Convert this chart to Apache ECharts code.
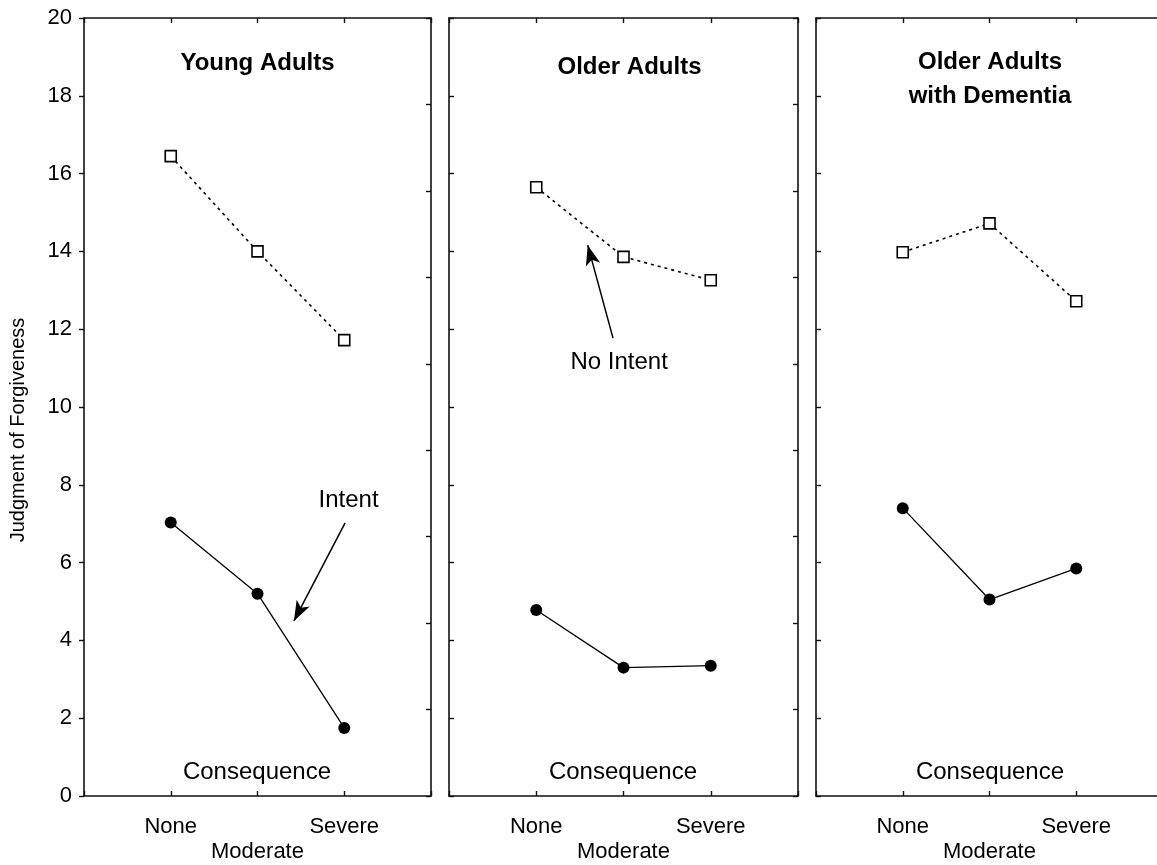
<!DOCTYPE html>
<html>
<head>
<meta charset="utf-8">
<script src="https://cdn.jsdelivr.net/npm/echarts@6/dist/echarts.min.js"></script>
<style>html,body{margin:0;padding:0;background:#fff;}#c{width:1157px;height:865px;}</style>
</head>
<body>
<div id="c"></div>
<script>
// ---- data ----
var consequences = ['None', 'Moderate', 'Severe'];
var xPositions = [1, 2, 3];
var panelTitles = [['Young Adults'], ['Older Adults'], ['Older Adults', 'with Dementia']];
var noIntentYoung = [16.45, 14.0, 11.72];
var intentYoung = [7.03, 5.2, 1.75];
var noIntentOlder = [15.65, 13.86, 13.26];
var intentOlder = [4.78, 3.3, 3.35];
var noIntentDementia = [13.98, 14.72, 12.72];
var intentDementia = [7.4, 5.05, 5.85];
var yTicks = [0, 2, 4, 6, 8, 10, 12, 14, 16, 18, 20];

var noIntent = [noIntentYoung, noIntentOlder, noIntentDementia];
var intent = [intentYoung, intentOlder, intentDementia];

// annotation arrows in data space
var arrows = [
  {panel: 0, from: [3.01, 7.02], to: [2.42, 4.5], text: 'Intent', textAt: [3.05, 7.6]},
  {panel: 1, from: [1.88, 11.77], to: [1.59, 14.16], text: 'No Intent', textAt: [1.95, 11.15]}
];

var FONT = '"Liberation Sans", Arial, Helvetica, sans-serif';
var grids = [
  {left: 84, top: 18, width: 347, height: 778, outerBoundsMode: 'none', containLabel: false},
  {left: 449, top: 18, width: 349, height: 778, outerBoundsMode: 'none', containLabel: false},
  {left: 816, top: 18, width: 347, height: 778, outerBoundsMode: 'none', containLabel: false}
];

var xAxes = [], yAxes = [], series = [];
grids.forEach(function (g, i) {
  xAxes.push({
    gridIndex: i, type: 'value', min: 0, max: 4, interval: 1, position: 'bottom',
    axisLine: {show: true, onZero: false, lineStyle: {color: '#111', width: 1.6}},
    axisTick: {show: true, inside: true, length: 5, lineStyle: {color: '#111', width: 1.4}},
    splitLine: {show: false},
    axisLabel: {
      show: true, margin: 18, fontFamily: FONT, fontSize: 22, color: '#000', lineHeight: 25,
      formatter: function (v) {
        var k = xPositions.indexOf(v);
        if (k < 0) return '';
        return v === 2 ? '\n' + consequences[k] : consequences[k];
      }
    }
  });
  xAxes.push({
    gridIndex: i, type: 'value', min: 0, max: 4, interval: 1, position: 'top',
    axisLine: {show: true, onZero: false, lineStyle: {color: '#111', width: 1.6}},
    axisTick: {show: true, inside: true, length: 5, lineStyle: {color: '#111', width: 1.4}},
    splitLine: {show: false}, axisLabel: {show: false}
  });
  yAxes.push({
    gridIndex: i, type: 'value', min: 0, max: 20, interval: 2, position: 'left',
    axisLine: {show: true, onZero: false, lineStyle: {color: '#111', width: 1.6}},
    axisTick: {show: true, inside: i !== 0, length: 5, lineStyle: {color: '#111', width: 1.4}},
    splitLine: {show: false},
    axisLabel: {show: i === 0, margin: 12, fontFamily: FONT, fontSize: 22, color: '#000',
      formatter: function (v) { return yTicks.indexOf(v) >= 0 ? String(v) : ''; }}
  });
  yAxes.push({
    gridIndex: i, type: 'value', min: 0, max: 9, interval: 1, position: 'right',
    axisLine: {show: true, onZero: false, lineStyle: {color: '#111', width: 1.6}},
    axisTick: {show: true, inside: true, length: 5, lineStyle: {color: '#111', width: 1.4}},
    splitLine: {show: false}, axisLabel: {show: false}
  });

  var ni = noIntent[i].map(function (v, k) { return [xPositions[k], v]; });
  var it = intent[i].map(function (v, k) { return [xPositions[k], v]; });
  series.push({
    name: 'No Intent', type: 'line', xAxisIndex: 2 * i, yAxisIndex: 2 * i, data: ni,
    symbol: 'rect', symbolSize: 11, showSymbol: true, z: 3,
    lineStyle: {color: '#000', width: 1.6, type: [3, 4]},
    itemStyle: {color: '#fff', borderColor: '#000', borderWidth: 1.6},
    emphasis: {disabled: true}, animation: false
  });
  series.push({
    name: 'Intent', type: 'line', xAxisIndex: 2 * i, yAxisIndex: 2 * i, data: it,
    symbol: 'circle', symbolSize: 12, z: 3,
    lineStyle: {color: '#000', width: 1.3},
    itemStyle: {color: '#000', borderColor: '#000', borderWidth: 0},
    emphasis: {disabled: true}, animation: false
  });
});

// arrows and their captions, anchored in data space
arrows.forEach(function (a) {
  series.push({
    type: 'line', xAxisIndex: 2 * a.panel, yAxisIndex: 2 * a.panel, data: [],
    markLine: {
      silent: true, animation: false,
      symbol: ['none', 'arrow'], symbolSize: [11, 20],
      lineStyle: {color: '#000', width: 1.5, type: 'solid'},
      label: {show: false},
      data: [[{coord: a.from}, {coord: a.to}]]
    },
    markPoint: {
      silent: true, animation: false, symbol: 'rect', symbolSize: 0,
      label: {show: true, formatter: a.text, position: 'inside', fontFamily: FONT, fontSize: 24, color: '#000'},
      data: [{coord: a.textAt}]
    }
  });
});

// panel titles, "Consequence" captions, y-axis title
var graphics = [];
var panelCenters = [257.5, 629.5, 990];
grids.forEach(function (g, i) {
  var cx = panelCenters[i];
  var lines = panelTitles[i];
  var baseY = lines.length === 1 ? (i === 0 ? 63 : 67) : 62;
  lines.forEach(function (t, k) {
    graphics.push({
      type: 'text', x: cx, y: baseY + k * 34,
      style: {text: t, fontFamily: FONT, fontSize: 24, fontWeight: 'bold', fill: '#000',
        textAlign: 'center', textVerticalAlign: 'middle'}
    });
  });
  graphics.push({
    type: 'text', x: i === 0 ? 257 : (i === 1 ? 623 : 990), y: 772,
    style: {text: 'Consequence', fontFamily: FONT, fontSize: 24, fill: '#000',
      textAlign: 'center', textVerticalAlign: 'middle'}
  });
});
graphics.push({
  type: 'text', x: 18, y: 430, rotation: Math.PI / 2,
  style: {text: 'Judgment of Forgiveness', fontFamily: FONT, fontSize: 20, fill: '#000',
    textAlign: 'center', textVerticalAlign: 'middle'}
});

var chart = echarts.init(document.getElementById('c'), null, {renderer: 'canvas'});
chart.setOption({
  animation: false,
  backgroundColor: '#fff',
  grid: grids,
  xAxis: xAxes,
  yAxis: yAxes,
  series: series,
  graphic: graphics
});
</script>
</body>
</html>
